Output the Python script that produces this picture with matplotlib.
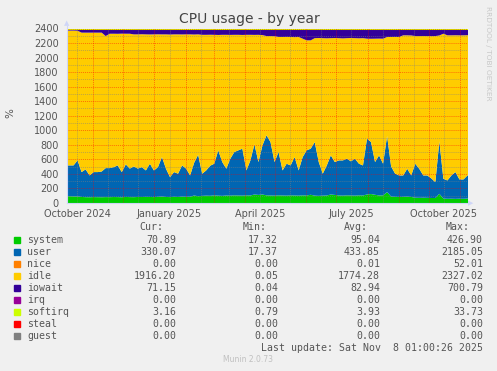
### Imports ###
import numpy as np
import matplotlib
matplotlib.use('Agg')
import matplotlib.pyplot as plt
from datetime import datetime, timedelta

### Data ###
# One reading every 4 days, first bin starts on 2024-10-06
start = datetime(2024, 10, 6)
end = datetime(2025, 11, 8)
step_days = 4

system = [100, 97, 97, 90, 87, 86, 88, 87, 86, 88,
          87, 89, 88, 86, 90, 88, 87, 90, 89, 91,
          90, 88, 92, 95, 90, 88, 92, 90, 94, 92,
          93, 110, 100, 105, 108, 106, 112, 108, 105, 110,
          108, 112, 110, 108, 112, 110, 124, 118, 124, 112,
          110, 108, 112, 110, 108, 112, 110, 108, 112, 110,
          120, 108, 105, 108, 110, 124, 118, 110, 108, 112,
          110, 108, 112, 110, 124, 130, 120, 110, 112, 156,
          95, 92, 90, 92, 94, 90, 80, 78, 80, 78,
          76, 75, 133, 68, 65, 66, 64, 66, 65, 68]
user = [424, 427, 496, 342, 383, 300, 344, 345, 354, 399,
        400, 411, 436, 346, 448, 392, 423, 390, 411, 364,
        457, 367, 408, 544, 388, 275, 340, 320, 430, 388,
        293, 450, 571, 305, 347, 414, 435, 623, 465, 368,
        508, 596, 621, 646, 343, 483, 690, 452, 676, 826,
        735, 462, 596, 345, 439, 412, 529, 347, 527, 621,
        634, 737, 465, 302, 414, 538, 452, 483, 485, 504,
        470, 508, 435, 414, 768, 715, 450, 552, 435, 772,
        415, 318, 296, 294, 384, 296, 467, 400, 306, 308,
        269, 219, 722, 272, 252, 320, 368, 265, 266, 318]
idle = [1854, 1854, 1783, 1918, 1880, 1964, 1918, 1918, 1910, 1816,
        1848, 1835, 1810, 1904, 1797, 1855, 1816, 1846, 1828, 1871,
        1778, 1871, 1827, 1687, 1848, 1961, 1894, 1916, 1801, 1846,
        1940, 1764, 1655, 1910, 1865, 1801, 1773, 1587, 1750, 1842,
        1703, 1612, 1589, 1564, 1865, 1727, 1505, 1750, 1516, 1365,
        1458, 1731, 1582, 1835, 1744, 1766, 1649, 1835, 1628, 1513,
        1490, 1429, 1706, 1864, 1748, 1612, 1706, 1681, 1678, 1658,
        1696, 1658, 1725, 1750, 1375, 1421, 1697, 1606, 1720, 1362,
        1780, 1881, 1904, 1927, 1835, 1925, 1756, 1825, 1918, 1917,
        1957, 2009, 1456, 1995, 1996, 1927, 1882, 1982, 1982, 1929]
iowait = [8, 8, 10, 36, 36, 36, 36, 36, 36, 83,
          51, 51, 52, 50, 51, 51, 60, 60, 58, 60,
          61, 60, 59, 60, 60, 62, 60, 60, 61, 60,
          60, 62, 60, 66, 66, 65, 66, 68, 66, 66,
          67, 66, 66, 68, 66, 66, 67, 66, 70, 83,
          83, 85, 96, 96, 95, 96, 98, 96, 119, 142,
          142, 112, 110, 112, 114, 112, 110, 112, 115, 112,
          110, 112, 114, 112, 119, 120, 119, 118, 119, 96,
          96, 95, 96, 73, 73, 75, 83, 83, 82, 83,
          84, 83, 75, 51, 73, 73, 72, 73, 73, 71]
softirq = [4.0] * len(system)

# Legend table
names = ['system', 'user', 'nice', 'idle', 'iowait', 'irq', 'softirq', 'steal', 'guest']
colors = ['#00CC00', '#0066B3', '#FF8000', '#FFCC00', '#330099',
          '#990099', '#CCFF00', '#FF0000', '#808080']
cur = [70.89, 330.07, 0.00, 1916.20, 71.15, 0.00, 3.16, 0.00, 0.00]
mins = [17.32, 17.37, 0.00, 0.05, 0.04, 0.00, 0.79, 0.00, 0.00]
avgs = [95.04, 433.85, 0.01, 1774.28, 82.94, 0.00, 3.93, 0.00, 0.00]
maxs = [426.90, 2185.05, 52.01, 2327.02, 700.79, 0.00, 33.73, 0.00, 0.00]

y_ticks = list(range(0, 2401, 200))
x_label_dates = [datetime(2024, 10, 16), datetime(2025, 1, 16), datetime(2025, 4, 16),
                 datetime(2025, 7, 16), datetime(2025, 10, 16)]
x_labels = ['October 2024', 'January 2025', 'April 2025', 'July 2025', 'October 2025']

### Figure ###
W, H = 497, 371
fig = plt.figure(figsize=(W / 100, H / 100), dpi=100)
fig.patch.set_facecolor('#F0F0F0')


def fx(x):
    return x / W


def fy(y):
    return 1 - y / H


ax = fig.add_axes([fx(67), fy(203), 400 / W, 174.5 / H])
ax.set_facecolor('white')

# Stack the series the way munin does (system at the bottom)
n = len(system)
centers = [start + timedelta(days=step_days * i + step_days / 2) for i in range(n)]
xs = [start] + centers + [end + timedelta(days=2)]
layers = [system, user, [0] * n, idle, iowait, [0] * n, softirq]
layer_colors = colors[:7]
base = np.zeros(n)
for vals, col in zip(layers, layer_colors):
    top = base + np.array(vals, dtype=float)
    lo = np.concatenate([[base[0]], base, [base[-1]]])
    hi = np.concatenate([[top[0]], top, [top[-1]]])
    ax.fill_between(xs, lo, hi, color=col, lw=0)
    base = top

ax.set_xlim(start, end)
ax.set_ylim(0, 2400)

# Grid drawn over the data, dotted like rrdtool
dot = (0, (1, 1))
for yv in range(0, 2401, 100):
    if yv % 200 == 0:
        ax.axhline(yv, color='#FF0000', alpha=0.45, lw=0.7, ls=dot, zorder=3)
    else:
        ax.axhline(yv, color='#808080', alpha=0.5, lw=0.7, ls=dot, zorder=3)
d = datetime(2024, 10, 1)
while d < end:
    if d > start:
        ax.axvline(d, color='#FF0000', alpha=0.45, lw=0.7, ls=dot, zorder=3)
    mid = d.replace(day=16)
    if start < mid < end:
        ax.axvline(mid, color='#808080', alpha=0.5, lw=0.7, ls=dot, zorder=3)
    d = datetime(d.year + (d.month // 12), d.month % 12 + 1, 1)

for s in ax.spines.values():
    s.set_visible(False)

ax.set_yticks(y_ticks)
ax.set_yticklabels([str(v) for v in y_ticks])
ax.set_xticks(x_label_dates)
ax.set_xticklabels(x_labels)
ax.tick_params(axis='both', length=0, labelsize=7, labelcolor='#555555')
ax.tick_params(axis='y', pad=6)
ax.tick_params(axis='x', pad=4)

# Axis lines and arrows
axis_col = '#CFD6F8'
fig.add_artist(plt.Line2D([fx(67), fx(67)], [fy(203), fy(26)], color=axis_col, lw=0.8))
fig.add_artist(plt.Line2D([fx(67), fx(468)], [fy(203), fy(203)], color=axis_col, lw=0.8))
fig.text(fx(67), fy(23), '\u25B2', color=axis_col, fontsize=5, ha='center', va='center')
fig.text(fx(471), fy(203), '\u25B6', color=axis_col, fontsize=5, ha='center', va='center')

# Titles
fig.text(fx(249), fy(19), 'CPU usage - by year', ha='center', va='center',
         fontsize=10, color='#444444')
fig.text(fx(10), fy(113), '%', rotation=90, ha='center', va='center',
         fontsize=7.5, color='#555555')
fig.text(fx(488), fy(6), 'RRDTOOL / TOBI OETIKER', rotation=270, ha='center', va='top',
         fontsize=5.3, color='#C8C8C8')

# Legend table
mono = 'DejaVu Sans Mono'
lc = '#555555'
col_right = [176, 278, 380, 483]
head_right = [163, 267, 368, 470]
for hx, h in zip(head_right, ['Cur:', 'Min:', 'Avg:', 'Max:']):
    fig.text(fx(hx), fy(227), h, ha='right', va='center', family=mono, fontsize=7.1, color=lc)
for i, name in enumerate(names):
    y = 240 + 12 * i
    fig.add_artist(plt.Rectangle((fx(14), fy(y + 3)), 6 / W, 6 / H, color=colors[i],
                                 transform=fig.transFigure))
    fig.text(fx(27), fy(y), name, ha='left', va='center', family=mono, fontsize=7.1, color=lc)
    for cx, v in zip(col_right, [cur[i], mins[i], avgs[i], maxs[i]]):
        fig.text(fx(cx), fy(y), f'{v:.2f}', ha='right', va='center', family=mono,
                 fontsize=7.1, color=lc)
fig.text(fx(483), fy(348), 'Last update: Sat Nov  8 01:00:26 2025', ha='right', va='center',
         family=mono, fontsize=7.1, color=lc)
fig.text(fx(248), fy(360), 'Munin 2.0.73', ha='center', va='center', fontsize=5.5,
         color='#C0C0C0')

fig.savefig('out.png', dpi=100, facecolor=fig.get_facecolor())
